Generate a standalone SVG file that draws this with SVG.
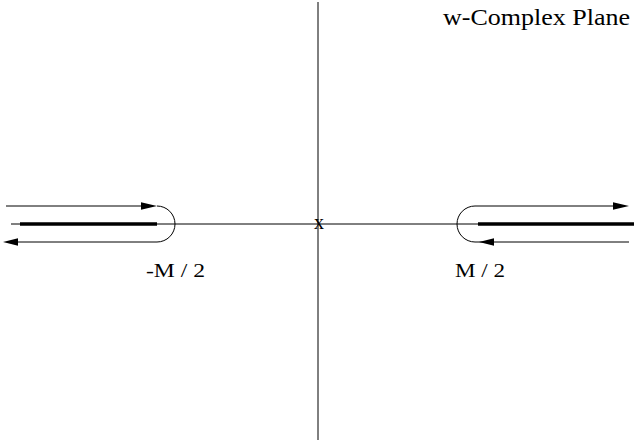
<svg xmlns="http://www.w3.org/2000/svg" width="634" height="447" viewBox="0 0 634 447">
<style>
.ax{stroke:#000;stroke-width:1;fill:none}
.cut{stroke:#000;stroke-width:3.5;fill:none}
.ln{stroke:#000;stroke-width:1;fill:none}
.hd{fill:#000;stroke:none}
.t{font-family:"Liberation Serif","Times New Roman",serif;fill:#000}
</style>
<rect width="634" height="447" fill="#fff"/>
<g id="axes">
<line class="ax" x1="318" y1="2" x2="318" y2="440"/>
<line class="ax" x1="11" y1="224" x2="632" y2="224"/>
</g>
<g id="left-cut">
<line class="cut" x1="20" y1="224" x2="157" y2="224"/>
</g>
<g id="right-cut">
<line class="cut" x1="478" y1="224" x2="634" y2="224"/>
</g>
<g id="connectors">
<path class="ln" d="M6,206 H141 M157,206 A18,18 0 0 1 157,242 H17"/>
<polygon class="hd" points="141,202.3 157,206 141,209.7"/>
<polygon class="hd" points="18,238.3 3,242 18,245.7"/>
<path class="ln" d="M613,206 H475 A18,18 0 0 0 475,242 H629"/>
<polygon class="hd" points="613,202.3 629,206 613,209.7"/>
<polygon class="hd" points="494,238.3 479,242 494,245.7"/>
</g>
<g id="labels">
<text class="t" x="443" y="25" font-size="23" textLength="187" lengthAdjust="spacingAndGlyphs">w-Complex Plane</text>
<text class="t" x="146" y="277" font-size="18" textLength="59" lengthAdjust="spacingAndGlyphs">-M / 2</text>
<text class="t" x="455" y="277" font-size="18" textLength="50" lengthAdjust="spacingAndGlyphs">M / 2</text>
<text class="t" x="319" y="229" font-size="20" text-anchor="middle">x</text>
</g>
</svg>
